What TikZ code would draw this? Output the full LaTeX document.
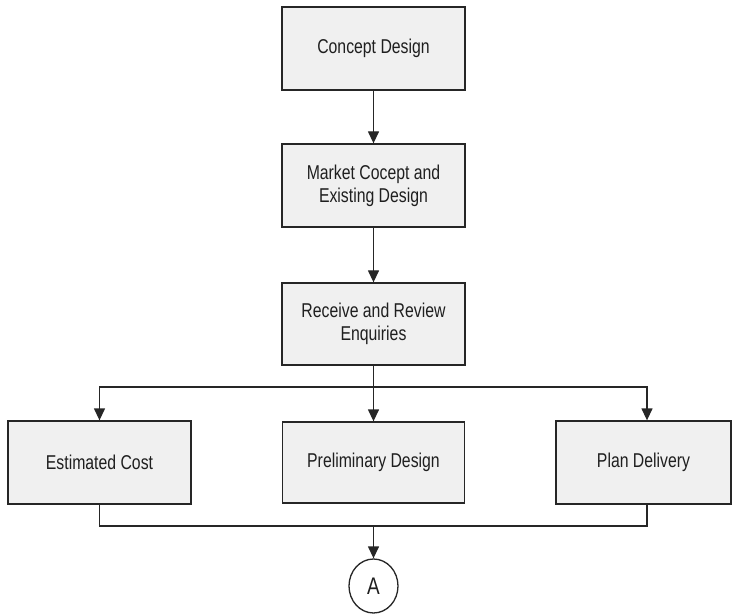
\documentclass[tikz,border=0pt]{standalone}
\usepackage{fontspec}
\setmainfont{Liberation Sans}[FakeStretch=0.79]
\usetikzlibrary{arrows.meta,shapes.geometric}
\begin{document}
\begin{tikzpicture}[x=1pt,y=-1pt,
  stepbox/.style={draw=black!85, line width=1.3pt, fill=black!6, align=center,
    minimum width=183pt, minimum height=83pt, inner sep=0pt,
    font=\fontsize{20}{23}\selectfont, text=black!88},
  flow/.style={draw=black!85, line width=1.3pt},
  arr/.style={flow, -{Triangle[length=12pt,width=11pt]}}]
\useasboundingbox (0,0) rectangle (732,615);

\node[stepbox] (concept) at (373.5,48.5) {Concept Design};
\node[stepbox] (market) at (373.5,185.5) {Market Cocept and\\Existing Design};
\node[stepbox, minimum height=82pt] (enq) at (373.5,324) {Receive and Review\\Enquiries};
\node[stepbox] (cost) at (99.5,462.5) {Estimated Cost};
\node[stepbox, minimum width=182pt, minimum height=81pt] (prelim) at (373.5,462.5) {Preliminary Design};
\node[stepbox, minimum width=175pt] (deliv) at (643.5,462.5) {Plan Delivery};
\node[ellipse, draw=black!85, line width=1.3pt, minimum width=49pt, minimum height=54pt,
      inner sep=0pt, font=\fontsize{24}{26}\selectfont, text=black!88] (A) at (373.5,586) {A};

\coordinate (br) at (373.5,387);
\coordinate (mg) at (373.5,526);
\coordinate (dtop) at (647,387);

\draw[arr] (concept) -- (market);
\draw[arr] (market) -- (enq);
\draw[flow] (enq.south) -- (br);
\draw[arr] (br) -| (cost.north);
\draw[arr] (br) -- (prelim.north);
\draw[arr] (br) -- (dtop) -- (dtop |- deliv.north);
\draw[flow] (cost.south) |- (mg);
\draw[flow] (deliv.south -| dtop) |- (mg);
\draw[arr] (mg) -- (A);
\end{tikzpicture}
\end{document}
